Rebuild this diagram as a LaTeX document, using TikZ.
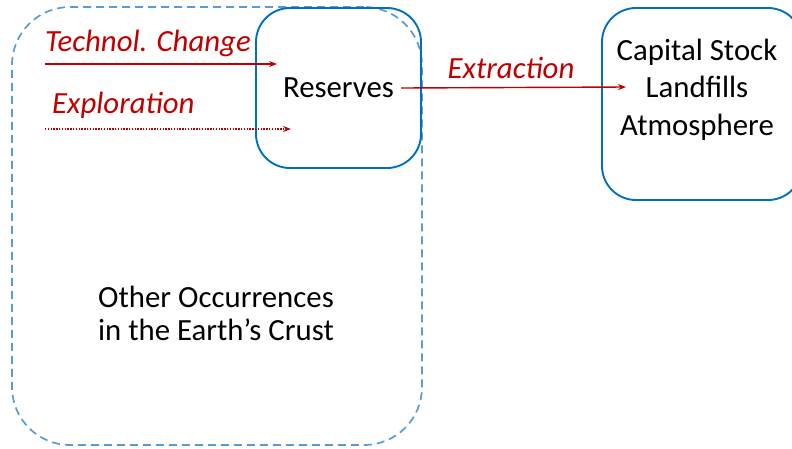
\documentclass[tikz,border=0pt]{standalone}
\usepackage{fontspec}
\setmainfont{Carlito}
\usetikzlibrary{arrows.meta}
\definecolor{boxblue}{RGB}{0,112,192}
\definecolor{dashblue}{RGB}{91,155,213}
\definecolor{flowred}{RGB}{192,0,0}
\begin{document}
\begin{tikzpicture}[x=1pt, y=-1pt]
    \tikzstyle{stock} = [draw=boxblue, line width=1.9pt, rounded corners=34pt, inner sep=0pt]
    \tikzstyle{flow} = [flowred, line width=1.4pt, -{Stealth[length=8pt,width=6pt]}]
    \tikzstyle{flowlabel} = [text=flowred, font=\fontsize{30.8}{36}\selectfont\itshape, inner sep=0pt]
    \tikzstyle{plain} = [font=\fontsize{30.8}{37.5}\selectfont, align=center]

    \useasboundingbox (0,0) rectangle (792,448);

    % Other occurrences (dashed)
    \node [draw=dashblue, line width=1.7pt, dash pattern=on 8pt off 5pt, rounded corners=58pt,
           minimum width=410pt, minimum height=438pt] (crustbox) at (217,226) {};
    \node [plain, font=\fontsize{30.8}{33}\selectfont] (crust) at (216,313) {Other Occurrences\\in the Earth’s Crust};

    % Reserves
    \node [stock, minimum width=165pt, minimum height=160pt] (resbox) at (338.5,88) {};
    \node [plain, inner sep=7pt] (res) at (resbox) {Reserves};

    % Capital stock etc.
    \node [stock, minimum width=200pt, minimum height=192pt] (capbox) at (702,104) {};
    \node [plain] (cap) at (697,89.5) {Capital Stock\\Landfills\\Atmosphere};

    % Free ends of the flows
    \coordinate (techin) at (45,64);
    \coordinate (techout) at (277,64);
    \coordinate (explin) at (45,129);
    \coordinate (explout) at (291,129);
    \coordinate (extrout) at (626,87);

    % Flows
    \draw [flow] (techin) -- (techout);
    \draw [flow, dash pattern=on 1.4pt off 1.4pt] (explin) -- (explout);
    \draw [flow] (res.east) -- (extrout);

    % Flow labels
    \node [flowlabel, anchor=west] (tech) at (45,43) {Technol. Change};
    \node [flowlabel, anchor=west] (expl) at (52,105) {Exploration};
    \node [flowlabel] (extr) at (511,68) {Extraction};
\end{tikzpicture}
\end{document}
